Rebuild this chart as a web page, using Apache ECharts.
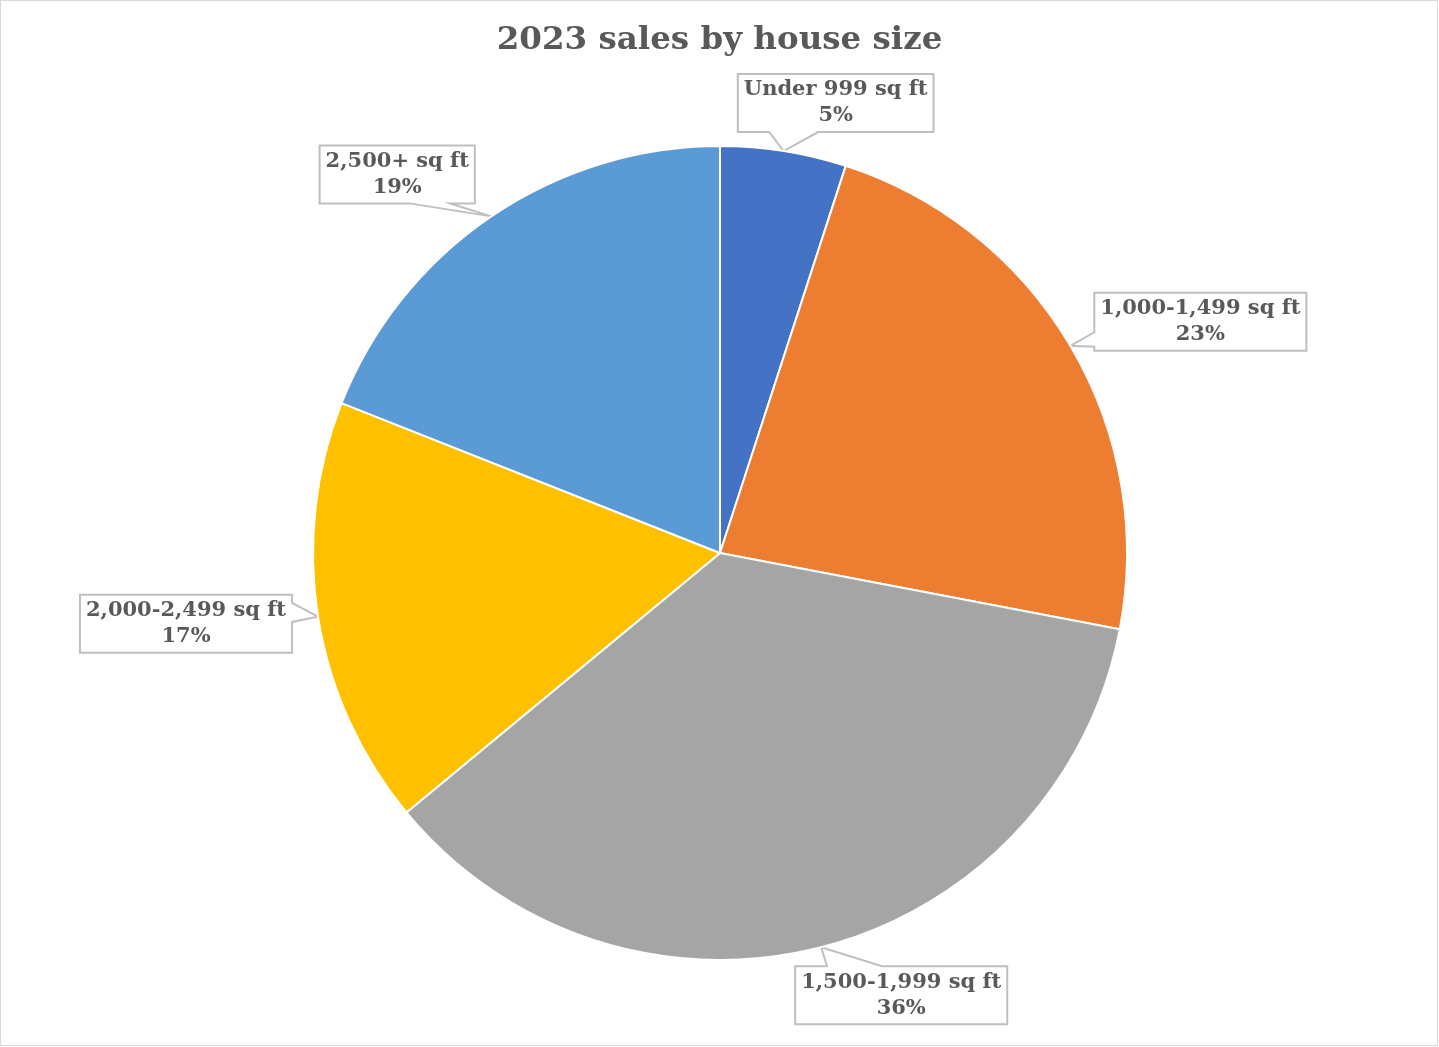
<!DOCTYPE html>
<html>
<head>
<meta charset="utf-8">
<title>2023 sales by house size</title>
<script src="https://cdn.jsdelivr.net/npm/echarts@6/dist/echarts.min.js"></script>
<style>
  html, body { margin: 0; padding: 0; background: #fff; }
  #wrap { position: relative; width: 1439px; height: 1047px; }
  #chart { width: 1439px; height: 1047px; }
  #frame { position: absolute; left: 0; top: 0; width: 1438px; height: 1046px;
           box-sizing: border-box; border: 1px solid #d9d9d9; pointer-events: none; }
</style>
</head>
<body>
<div id="wrap">
  <div id="chart"></div>
  <div id="frame"></div>
</div>
<script>
// House-size buckets and their share of 2023 sales (percent)
const categories = ['Under 999 sq ft', '1,000-1,499 sq ft', '1,500-1,999 sq ft', '2,000-2,499 sq ft', '2,500+ sq ft'];
const shares = [5, 23, 36, 17, 19];
const sliceColors = ['#4472C4', '#ED7D31', '#A5A5A5', '#FFC000', '#5B9BD5'];

// Callout placement: box centre offset from the slice edge point, the box side
// that carries the pointer, and where along that side the pointer base sits.
const calloutPlacement = [
  { dx: 52,   dy: -48, side: 'bottom', from: 0.16, to: 0.41 },
  { dx: 130,  dy: -24, side: 'left',   from: 0.68, to: 0.93 },
  { dx: 80,   dy: 48,  side: 'top',    from: 0.15, to: 0.41 },
  { dx: -132, dy: 7,   side: 'right',  from: 0.14, to: 0.47 },
  { dx: -94,  dy: -42, side: 'bottom', from: 0.58, to: 0.84 }
];

const textColor = '#595959';
const serif = '"DejaVu Serif", "Liberation Serif", serif';

// Outline of a callout box with a pointer to the slice
function calloutOutline(x, y, w, h, tip, side, f0, f1) {
  const L = x, T = y, R = x + w, B = y + h;
  const pts = [[L, T]];
  if (side === 'top') pts.push([L + f0 * w, T], tip, [L + f1 * w, T]);
  pts.push([R, T]);
  if (side === 'right') pts.push([R, T + f0 * h], tip, [R, T + f1 * h]);
  pts.push([R, B]);
  if (side === 'bottom') pts.push([L + f1 * w, B], tip, [L + f0 * w, B]);
  pts.push([L, B]);
  if (side === 'left') pts.push([L, T + f1 * h], tip, [L, T + f0 * h]);
  pts.push([L, T], [L + 1, T]);
  return pts;
}

const chart = echarts.init(document.getElementById('chart'), null, { renderer: 'canvas' });

chart.setOption({
  backgroundColor: '#ffffff',
  animation: false,
  title: {
    text: '2023 sales by house size',
    left: 'center',
    top: 19,
    textStyle: { fontFamily: serif, fontWeight: 'bold', fontSize: 32.5, color: textColor }
  },
  series: [{
    type: 'pie',
    center: [720, 553],
    radius: 407,
    startAngle: 90,
    clockwise: true,
    avoidLabelOverlap: false,
    data: categories.map((name, i) => ({
      name: name,
      value: shares[i],
      itemStyle: { color: sliceColors[i] }
    })),
    itemStyle: { borderColor: '#ffffff', borderWidth: 2 },
    label: {
      show: true,
      position: 'outside',
      formatter: '{b}\n{c}%',
      fontFamily: serif,
      fontWeight: 'bold',
      fontSize: 21,
      lineHeight: 26,
      color: textColor,
      align: 'center',
      padding: [4, 6, 2, 6]
    },
    labelLine: {
      show: true,
      length: 20,
      length2: 20,
      smooth: false,
      lineStyle: { color: '#bfbfbf', width: 2 }
    },
    labelLayout: function (params) {
      const p = calloutPlacement[params.dataIndex];
      const tip = params.labelLinePoints[0];
      const w = params.labelRect.width;
      const h = params.labelRect.height;
      const cx = tip[0] + p.dx;
      const cy = tip[1] + p.dy;
      return {
        x: cx,
        y: cy,
        align: 'center',
        verticalAlign: 'middle',
        labelLinePoints: calloutOutline(cx - w / 2, cy - h / 2, w, h, tip, p.side, p.from, p.to)
      };
    }
  }]
});
</script>
</body>
</html>
